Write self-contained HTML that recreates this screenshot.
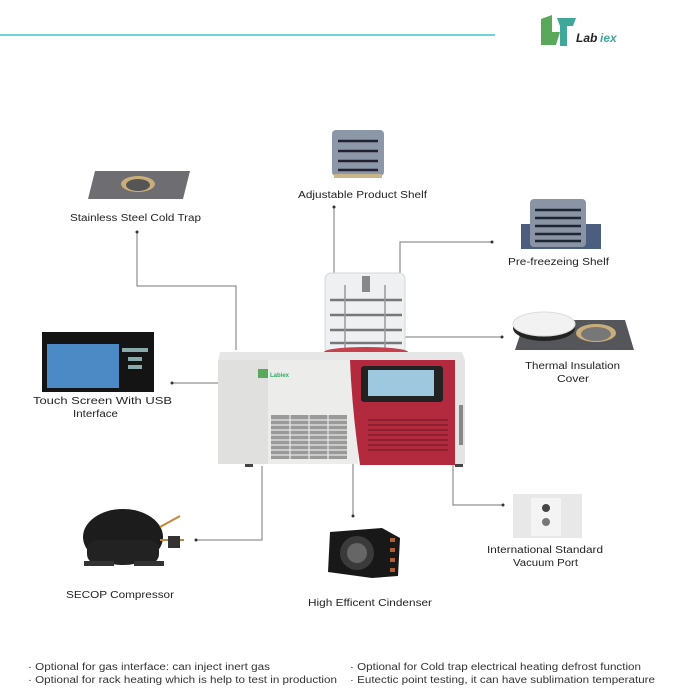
<!DOCTYPE html>
<html><head><meta charset="utf-8"><style>
html,body{margin:0;padding:0;background:#fff;}
svg{display:block;font-family:"Liberation Sans",sans-serif;}
</style></head><body>
<svg width="700" height="700" viewBox="0 0 700 700" xmlns="http://www.w3.org/2000/svg">
<rect width="700" height="700" fill="#fff"/>
<line x1="0" y1="35" x2="495" y2="35" stroke="#3ec4d6" stroke-width="1.5"/>
<g>
<path d="M541 19 L552 15 L552 32 L560 32 L556 45 L541 45 Z" fill="#5aa85a"/>
<path d="M557 18 L576 18 L573 26 L567 26 L567 46 L560 46 L560 26 Z" fill="#3fa89a"/>
<text x="576" y="42" font-size="12" font-weight="bold" font-style="italic" fill="#222">Lab</text>
<text x="600" y="42" font-size="12" font-weight="bold" font-style="italic" fill="#3fa89a">iex</text>
</g>

<g stroke="#777" stroke-width="1" fill="none">
<polyline points="137,232 137,286 236,286 236,350"/>
<line x1="334" y1="207" x2="334" y2="276"/>
<polyline points="400,275 400,242 492,242"/>
<line x1="405" y1="337" x2="502" y2="337"/>
<line x1="172" y1="383" x2="250" y2="383"/>
<polyline points="453,462 453,505 503,505"/>
<polyline points="262,466 262,540 196,540"/>
<line x1="353" y1="462" x2="353" y2="516"/>
</g>
<g fill="#333">
<circle cx="137" cy="232" r="1.5"/><circle cx="334" cy="207" r="1.5"/><circle cx="492" cy="242" r="1.5"/>
<circle cx="502" cy="337" r="1.5"/><circle cx="172" cy="383" r="1.5"/><circle cx="503" cy="505" r="1.5"/>
<circle cx="196" cy="540" r="1.5"/><circle cx="353" cy="516" r="1.5"/>
</g>

<path d="M95 171 L190 171 L183 199 L88 199 Z" fill="#6d6d72"/>
<ellipse cx="138" cy="184" rx="17" ry="8" fill="#c9ad7a"/>
<ellipse cx="138" cy="185" rx="12" ry="6" fill="#555"/>

<rect x="332" y="130" width="52" height="46" rx="4" fill="#8c98a8"/>
<g stroke="#223" stroke-width="2.5"><line x1="338" y1="141" x2="378" y2="141"/><line x1="338" y1="151" x2="378" y2="151"/><line x1="338" y1="161" x2="378" y2="161"/><line x1="338" y1="170" x2="378" y2="170"/></g>
<rect x="334" y="174" width="48" height="4" fill="#c9b58a"/>

<rect x="521" y="224" width="80" height="25" fill="#4c5e80"/>
<rect x="530" y="199" width="56" height="48" rx="4" fill="#8a94a4"/>
<g stroke="#1e2533" stroke-width="2.5"><line x1="535" y1="210" x2="581" y2="210"/><line x1="535" y1="218" x2="581" y2="218"/><line x1="535" y1="226" x2="581" y2="226"/><line x1="535" y1="234" x2="581" y2="234"/><line x1="535" y1="241" x2="581" y2="241"/></g>

<path d="M525 320 L625 320 L634 350 L515 350 Z" fill="#55565a"/>
<ellipse cx="596" cy="333" rx="20" ry="9" fill="#c9ad7a"/>
<ellipse cx="596" cy="334" rx="15" ry="7" fill="#777"/>
<ellipse cx="544" cy="328" rx="31" ry="13" fill="#222"/>
<ellipse cx="544" cy="324" rx="31" ry="12" fill="#f2f2f2" stroke="#ddd"/>

<rect x="42" y="332" width="112" height="60" fill="#141414"/>
<rect x="47" y="344" width="72" height="44" fill="#4c8ac6"/>
<rect x="122" y="348" width="26" height="4" fill="#8aa"/>
<rect x="128" y="357" width="14" height="4" fill="#8aa"/>
<rect x="128" y="365" width="14" height="4" fill="#8aa"/>

<g>
<rect x="325" y="273" width="80" height="80" rx="6" fill="#eef0f2" stroke="#d4d6d8"/>
<g stroke="#777" stroke-width="2.5"><line x1="330" y1="300" x2="402" y2="300"/><line x1="330" y1="315" x2="402" y2="315"/><line x1="330" y1="330" x2="402" y2="330"/><line x1="330" y1="343" x2="402" y2="343"/></g>
<g stroke="#999" stroke-width="1.5"><line x1="345" y1="285" x2="345" y2="352"/><line x1="385" y1="285" x2="385" y2="352"/></g>
<rect x="362" y="276" width="8" height="16" fill="#888"/>
<ellipse cx="366" cy="352" rx="42" ry="5" fill="#c7404c"/>
<path d="M220 352 L462 352 L465 360 L218 362 Z" fill="#e6e6e6"/>
<rect x="218" y="360" width="140" height="104" fill="#ececea"/>
<rect x="218" y="360" width="50" height="104" fill="#e0e0de"/>
<rect x="271" y="415" width="76" height="44" fill="#9a9a9a"/>
<g stroke="#e8e8e8" stroke-width="1.2">
<line x1="271" y1="420" x2="347" y2="420"/><line x1="271" y1="425" x2="347" y2="425"/><line x1="271" y1="430" x2="347" y2="430"/><line x1="271" y1="435" x2="347" y2="435"/><line x1="271" y1="440" x2="347" y2="440"/><line x1="271" y1="445" x2="347" y2="445"/><line x1="271" y1="450" x2="347" y2="450"/><line x1="271" y1="455" x2="347" y2="455"/>
<line x1="290" y1="415" x2="290" y2="459"/><line x1="309" y1="415" x2="309" y2="459"/><line x1="328" y1="415" x2="328" y2="459"/>
</g>
<rect x="258" y="369" width="10" height="9" fill="#5aa85a"/>
<text x="270" y="377" font-size="6" font-weight="bold" fill="#3a6">Labiex</text>
<path d="M350 360 L455 360 L455 465 L360 465 Q352 410 350 360 Z" fill="#b32a3e"/>
<rect x="361" y="366" width="82" height="36" rx="3" fill="#222"/>
<rect x="368" y="370" width="66" height="26" fill="#9ec8dd"/>
<g stroke="#7a1a28" stroke-width="1.3">
<line x1="368" y1="420" x2="448" y2="420"/><line x1="368" y1="425" x2="448" y2="425"/><line x1="368" y1="430" x2="448" y2="430"/><line x1="368" y1="435" x2="448" y2="435"/><line x1="368" y1="440" x2="448" y2="440"/><line x1="368" y1="445" x2="448" y2="445"/><line x1="368" y1="450" x2="448" y2="450"/>
</g>
<rect x="455" y="360" width="10" height="104" fill="#e4e4e4"/>
<rect x="459" y="405" width="4" height="40" fill="#888"/>
<rect x="245" y="464" width="8" height="3" fill="#444"/>
<rect x="455" y="464" width="8" height="3" fill="#444"/>
</g>

<ellipse cx="123" cy="537" rx="40" ry="28" fill="#1c1c1c"/>
<rect x="87" y="540" width="72" height="24" rx="10" fill="#222"/>
<rect x="84" y="561" width="30" height="5" fill="#333"/><rect x="134" y="561" width="30" height="5" fill="#333"/>
<line x1="160" y1="527" x2="180" y2="516" stroke="#c8843a" stroke-width="2"/>
<line x1="160" y1="540" x2="184" y2="540" stroke="#c8843a" stroke-width="2"/>
<rect x="168" y="536" width="12" height="12" fill="#333"/>

<path d="M330 532 L382 528 L400 538 L398 576 L372 578 L328 572 Z" fill="#181818"/>
<circle cx="357" cy="553" r="17" fill="#3a3a3a"/>
<circle cx="357" cy="553" r="10" fill="#666"/>
<g fill="#b06030"><rect x="390" y="538" width="5" height="4"/><rect x="390" y="548" width="5" height="4"/><rect x="390" y="558" width="5" height="4"/><rect x="390" y="568" width="5" height="4"/></g>

<rect x="513" y="494" width="69" height="44" fill="#e9e8e8"/>
<rect x="531" y="498" width="30" height="38" fill="#f4f4f4"/>
<circle cx="546" cy="508" r="4" fill="#444"/>
<circle cx="546" cy="522" r="4" fill="#777"/>

<!-- labels -->
<g font-size="10" fill="#222" lengthAdjust="spacingAndGlyphs">
<text x="70" y="221" textLength="131" lengthAdjust="spacingAndGlyphs">Stainless Steel Cold Trap</text>
<text x="298" y="198" textLength="129" lengthAdjust="spacingAndGlyphs">Adjustable Product Shelf</text>
<text x="508" y="265" textLength="101" lengthAdjust="spacingAndGlyphs">Pre-freezeing Shelf</text>
<text x="525" y="369" textLength="95" lengthAdjust="spacingAndGlyphs">Thermal Insulation</text>
<text x="557" y="382" textLength="32" lengthAdjust="spacingAndGlyphs">Cover</text>
<text x="33" y="404" textLength="139" lengthAdjust="spacingAndGlyphs">Touch Screen With USB</text>
<text x="73" y="417" textLength="45" lengthAdjust="spacingAndGlyphs">Interface</text>
<text x="66" y="598" textLength="108" lengthAdjust="spacingAndGlyphs">SECOP Compressor</text>
<text x="308" y="606" textLength="124" lengthAdjust="spacingAndGlyphs">High Efficent Cindenser</text>
<text x="487" y="553" textLength="116" lengthAdjust="spacingAndGlyphs">International Standard</text>
<text x="513" y="566" textLength="65" lengthAdjust="spacingAndGlyphs">Vacuum Port</text>
</g>

<g font-size="10" fill="#333">
<text x="28" y="670" textLength="242" lengthAdjust="spacingAndGlyphs">· Optional for gas interface: can inject inert gas</text>
<text x="28" y="683" textLength="309" lengthAdjust="spacingAndGlyphs">· Optional for rack heating which is help to test in production</text>
<text x="350" y="670" textLength="291" lengthAdjust="spacingAndGlyphs">· Optional for Cold trap electrical heating defrost function</text>
<text x="350" y="683" textLength="305" lengthAdjust="spacingAndGlyphs">· Eutectic point testing, it can have sublimation temperature</text>
</g>
</svg>
</body></html>
